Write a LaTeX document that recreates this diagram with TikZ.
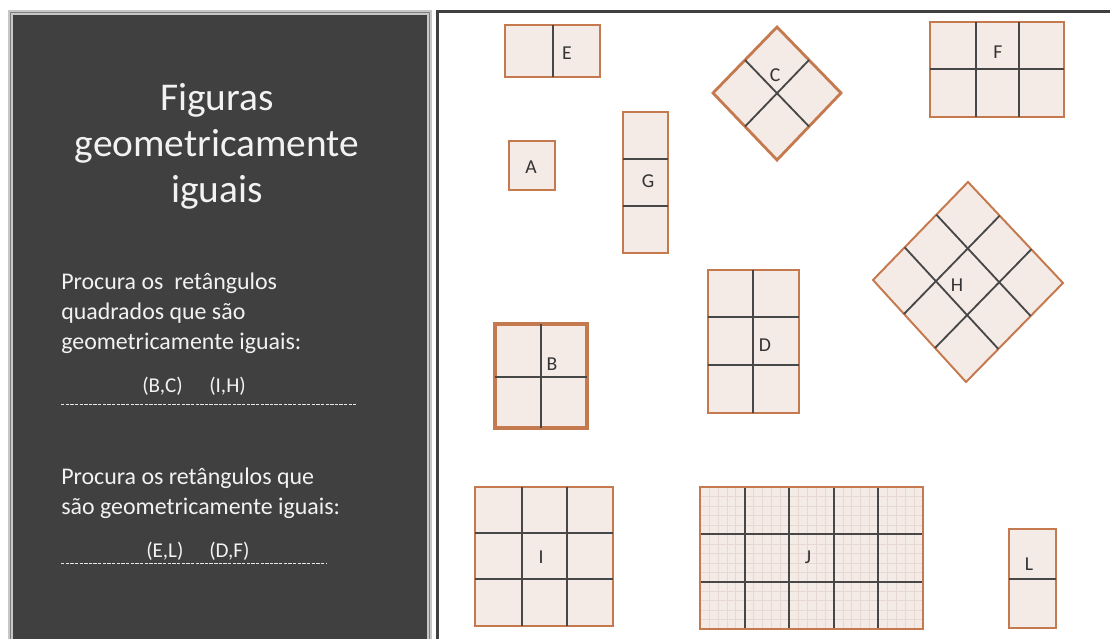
\documentclass[tikz,border=0pt]{standalone}
\usepackage{fontspec}
\setmainfont{Carlito}
\usetikzlibrary{calc}
\definecolor{panel}{HTML}{404040}
\definecolor{tilefill}{HTML}{F4EAE6}
\definecolor{tileedge}{HTML}{C47A4E}
\definecolor{cutline}{HTML}{474747}
\definecolor{fineline}{HTML}{E8D8D2}

\begin{document}
\begin{tikzpicture}[x=0.025cm, y=-0.025cm,
    tile/.style={fill=tilefill, draw=tileedge, line width=1.4pt},
    cut/.style={draw=cutline, line width=1.3pt},
    lbl/.style={font=\fontsize{14}{16}\selectfont, text=black!80, inner sep=0pt},
    title/.style={anchor=base, text=white!95!black, font=\fontsize{28}{32}\selectfont, inner sep=0pt},
    txt/.style={anchor=base west, text=white!95!black, font=\fontsize{17}{20}\selectfont, inner sep=0pt},
    ans/.style={anchor=base west, text=white!95!black, font=\fontsize{15}{18}\selectfont, inner sep=0pt}]
\useasboundingbox (0,0) rectangle (1110,638);

% left panel
\fill[panel] (10,12) rectangle (430,660);
\draw[line width=3.4pt, black!22] (10.5,12.5) rectangle (429.5,660);
\draw[line width=0.6pt, black!50] (10.5,12.5) rectangle (429.5,660);
\node[title] (tit1) at (217,110) {Figuras};
\node[title] (tit2) at (217,156) {geometricamente};
\node[title] (tit3) at (217,202) {iguais};
\node[txt] (q1a) at (61,289) {Procura os~ retângulos};
\node[txt] (q1b) at (61,319) {quadrados que são};
\node[txt] (q1c) at (61,349) {geometricamente iguais:};
\node[ans] (bc) at (142,392) {(B,C)};
\node[ans] (ih) at (209,392) {(I,H)};
\draw[white!90!black, line width=0.7pt, dash pattern=on 2.4pt off 0.9pt] (61,404) -- (356,404);
\node[txt] (q2a) at (61,484) {Procura os retângulos que};
\node[txt] (q2b) at (61,514) {são geometricamente iguais:};
\node[ans] (el) at (146,557) {(E,L)};
\node[ans] (df) at (209,557) {(D,F)};
\draw[white!90!black, line width=0.7pt, dash pattern=on 2.4pt off 0.9pt] (61,563) -- (326,563);

% right panel frame
\draw[panel, line width=1.5pt] (437.5,700) -- (437.5,11.5) -- (1130,11.5);

% E
\draw[tile] (505,25) rectangle (600,77);
\draw[cut] (553,25) -- (553,77);
\node[lbl] (labE) at (567,53) {E};
% A
\draw[tile] (509,141) rectangle (555,190);
\node[lbl] (labA) at (531,167) {A};
% G
\draw[tile] (623,112) rectangle (668,253);
\foreach \y in {159,206}
  \draw[cut] (623,\y) -- (668,\y);
\node[lbl] (labG) at (648,181) {G};
% C
\coordinate (Ct) at (777,27);
\coordinate (Cr) at (841,93);
\coordinate (Cb) at (777,160);
\coordinate (Cl) at (713,93);
\draw[tile, line width=2pt] (Ct) -- (Cr) -- (Cb) -- (Cl) -- cycle;
\draw[cut] ($(Ct)!.5!(Cl)$) -- ($(Cr)!.5!(Cb)$);
\draw[cut] ($(Ct)!.5!(Cr)$) -- ($(Cl)!.5!(Cb)$);
\node[lbl] (labC) at (775,75) {C};
% F
\draw[tile] (930,22) rectangle (1064,117);
\foreach \x in {976,1019}
  \draw[cut] (\x,22) -- (\x,117);
\draw[cut] (930,69) -- (1064,69);
\node[lbl] (labF) at (998,52) {F};
% H
\coordinate (Ht) at (968,182);
\coordinate (Hr) at (1063,283);
\coordinate (Hb) at (966,382);
\coordinate (Hl) at (873,280);
\draw[tile] (Ht) -- (Hr) -- (Hb) -- (Hl) -- cycle;
\foreach \k in {1,2} {
  \draw[cut] ($(Ht)!\k/3!(Hl)$) -- ($(Hr)!\k/3!(Hb)$);
  \draw[cut] ($(Ht)!\k/3!(Hr)$) -- ($(Hl)!\k/3!(Hb)$);
}
\node[lbl] (labH) at (957,285) {H};
% D
\draw[tile] (708,270) rectangle (799,413);
\draw[cut] (753,270) -- (753,413);
\foreach \y in {317,365}
  \draw[cut] (708,\y) -- (799,\y);
\node[lbl] (labD) at (765,345) {D};
% B
\draw[tile, line width=2.2pt] (495,324) rectangle (587,428);
\draw[cut] (541,324) -- (541,428);
\draw[cut] (495,377) -- (587,377);
\node[lbl] (labB) at (552,364) {B};
% I
\draw[tile] (475,487) rectangle (613,626);
\foreach \x in {522,567}
  \draw[cut] (\x,487) -- (\x,626);
\foreach \y in {533,579}
  \draw[cut] (475,\y) -- (613,\y);
\node[lbl] (labI) at (541,557) {I};
% J
\fill[tilefill] (700,487) rectangle (923,629);
\foreach \k in {1,...,24}
  \draw[fineline, line width=0.3pt] ({700+\k*223/25},487) -- ({700+\k*223/25},629);
\foreach \k in {1,...,14}
  \draw[fineline, line width=0.3pt] (700,{487+\k*142/15}) -- (923,{487+\k*142/15});
\foreach \k in {1,...,4}
  \draw[cut] ({700+\k*44.6},487) -- ({700+\k*44.6},629);
\foreach \k in {1,2}
  \draw[cut] (700,{487+\k*142/3}) -- (923,{487+\k*142/3});
\draw[tileedge, line width=1.4pt] (700,487) rectangle (923,629);
\node[lbl] (labJ) at (808,557) {J};
% L
\draw[tile] (1009,529) rectangle (1056,628);
\draw[cut] (1009,579) -- (1056,579);
\node[lbl] (labL) at (1029,564) {L};
\end{tikzpicture}
\end{document}
